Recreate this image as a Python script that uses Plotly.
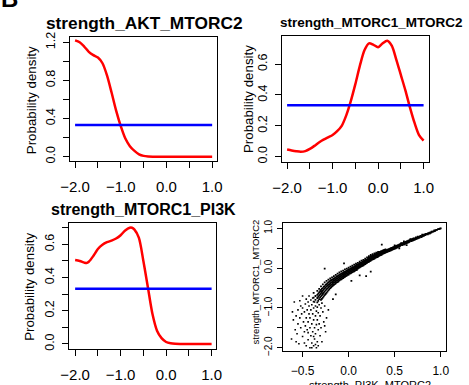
import plotly.graph_objects as go

W, H = 469, 385
FONT = "Liberation Sans, Arial, Helvetica, sans-serif"

# ---------------- density panels ----------------
akt_x = [-2.0, -1.9, -1.8, -1.7, -1.6, -1.5, -1.4, -1.3, -1.2, -1.1, -1.0, -0.9, -0.8, -0.7,
         -0.6, -0.5, -0.4, -0.3, -0.2, 0.0, 0.5, 1.0]
akt_y = [1.22, 1.20, 1.155, 1.10, 1.065, 1.04, 0.98, 0.85, 0.67, 0.48, 0.32, 0.19, 0.11, 0.06,
         0.025, 0.008, 0.002, 0.0, 0.0, 0.0, 0.0, 0.0]

m1m2_x = [-2.0, -1.9, -1.8, -1.7, -1.6, -1.5, -1.4, -1.3, -1.2, -1.1, -1.0, -0.9, -0.8, -0.7,
          -0.6, -0.5, -0.4, -0.3, -0.2, -0.1, 0.0, 0.1, 0.2, 0.3, 0.4, 0.5, 0.6, 0.7, 0.8, 0.9, 1.0]
m1m2_y = [0.046, 0.040, 0.035, 0.032, 0.036, 0.050, 0.070, 0.092, 0.110, 0.125, 0.140, 0.165,
          0.200, 0.268, 0.360, 0.470, 0.590, 0.690, 0.735, 0.725, 0.710, 0.735, 0.752, 0.720,
          0.630, 0.530, 0.430, 0.320, 0.220, 0.140, 0.104]

m1pi_x = [-2.0, -1.9, -1.8, -1.75, -1.7, -1.6, -1.5, -1.4, -1.3, -1.2, -1.1, -1.0, -0.9, -0.8,
          -0.75, -0.7, -0.6, -0.5, -0.4, -0.3, -0.2, -0.1, 0.0, 0.1, 0.2, 0.4, 1.0]
m1pi_y = [0.505, 0.500, 0.490, 0.487, 0.495, 0.530, 0.572, 0.598, 0.613, 0.622, 0.635, 0.655,
          0.683, 0.700, 0.700, 0.690, 0.640, 0.500, 0.340, 0.180, 0.080, 0.035, 0.012, 0.004,
          0.001, 0.0, 0.0]

prior_x = [-2.0, 1.0]
prior_y = [0.333, 0.333]

titles = ["strength_AKT_MTORC2", "strength_MTORC1_MTORC2", "strength_MTORC1_PI3K"]

# ---------------- scatter panel ----------------
band_tip = [(1.00, 1.00), (0.99, 0.99), (0.98, 0.98), (0.97, 0.98), (0.96, 0.96), (0.95, 0.96),
            (0.94, 0.94), (0.93, 0.93), (0.93, 0.95), (0.92, 0.92), (0.91, 0.92), (0.90, 0.90),
            (0.90, 0.92), (0.89, 0.89), (0.88, 0.89), (0.88, 0.87), (0.87, 0.88), (0.86, 0.87),
            (0.86, 0.85), (0.85, 0.86), (0.84, 0.84), (0.84, 0.86), (0.83, 0.83), (0.83, 0.85),
            (0.82, 0.82), (0.82, 0.84), (0.81, 0.81), (0.81, 0.83), (0.80, 0.80), (0.80, 0.82),
            (0.80, 0.84), (0.79, 0.80), (0.79, 0.78), (0.78, 0.79), (0.78, 0.81), (0.77, 0.77),
            (0.77, 0.79), (0.76, 0.78), (0.76, 0.76), (0.75, 0.77), (0.75, 0.75), (0.75, 0.79),
            (0.74, 0.74), (0.74, 0.76), (0.73, 0.73), (0.73, 0.75), (0.73, 0.77), (0.72, 0.72),
            (0.72, 0.74), (0.71, 0.73), (0.71, 0.71), (0.71, 0.75), (0.70, 0.72), (0.70, 0.70),
            (0.70, 0.74)]

band_upper = [(0.69, 0.71), (0.69, 0.73), (0.69, 0.69), (0.68, 0.70), (0.68, 0.72), (0.68, 0.68),
              (0.67, 0.69), (0.67, 0.71), (0.67, 0.73), (0.66, 0.68), (0.66, 0.70), (0.66, 0.66),
              (0.65, 0.67), (0.65, 0.69), (0.65, 0.65), (0.64, 0.66), (0.64, 0.68), (0.64, 0.64),
              (0.63, 0.65), (0.63, 0.67), (0.63, 0.63), (0.62, 0.64), (0.62, 0.66), (0.62, 0.62),
              (0.61, 0.63), (0.61, 0.65), (0.61, 0.60), (0.60, 0.62), (0.60, 0.64), (0.60, 0.60),
              (0.60, 0.67), (0.59, 0.61), (0.59, 0.63), (0.59, 0.59), (0.58, 0.60), (0.58, 0.62),
              (0.58, 0.58), (0.57, 0.59), (0.57, 0.61), (0.57, 0.63), (0.56, 0.58), (0.56, 0.60),
              (0.56, 0.56), (0.55, 0.57), (0.55, 0.59), (0.55, 0.55), (0.54, 0.56), (0.54, 0.58),
              (0.54, 0.54), (0.53, 0.55), (0.53, 0.57), (0.53, 0.52), (0.52, 0.54), (0.52, 0.56),
              (0.52, 0.51), (0.51, 0.53), (0.51, 0.55), (0.51, 0.50), (0.50, 0.52), (0.50, 0.54),
              (0.50, 0.49), (0.50, 0.57), (0.49, 0.51), (0.49, 0.53), (0.49, 0.48), (0.48, 0.50),
              (0.48, 0.52), (0.48, 0.47), (0.47, 0.49), (0.47, 0.51), (0.47, 0.46), (0.46, 0.48),
              (0.46, 0.50), (0.46, 0.45), (0.45, 0.47), (0.45, 0.49), (0.45, 0.44), (0.44, 0.46),
              (0.44, 0.48), (0.44, 0.43), (0.43, 0.45), (0.43, 0.47), (0.43, 0.42), (0.42, 0.44),
              (0.42, 0.46), (0.42, 0.41), (0.41, 0.43), (0.41, 0.45), (0.41, 0.40), (0.40, 0.42),
              (0.40, 0.44), (0.40, 0.39), (0.40, 0.47), (0.63, 0.58), (0.55, 0.50)]

band_mid = {
    0.39: [0.38, 0.41, 0.44, 0.46], 0.38: [0.37, 0.40, 0.42, 0.45], 0.37: [0.36, 0.39, 0.41, 0.44],
    0.36: [0.34, 0.37, 0.40, 0.43, 0.59], 0.35: [0.33, 0.36, 0.39, 0.42], 0.34: [0.32, 0.35, 0.38, 0.41],
    0.33: [0.31, 0.34, 0.36, 0.40], 0.32: [0.29, 0.32, 0.35, 0.38, 0.41], 0.31: [0.28, 0.31, 0.34, 0.37],
    0.30: [0.27, 0.30, 0.33, 0.36, 0.39], 0.29: [0.26, 0.29, 0.31, 0.35], 0.28: [0.24, 0.27, 0.30, 0.33, 0.37],
    0.27: [0.23, 0.26, 0.29, 0.32], 0.26: [0.22, 0.25, 0.28, 0.31, 0.35], 0.25: [0.21, 0.24, 0.27, 0.30],
    0.24: [0.19, 0.22, 0.25, 0.29, 0.33, -0.09], 0.23: [0.18, 0.21, 0.24, 0.27],
    0.22: [0.16, 0.19, 0.22, 0.26, 0.30], 0.21: [0.15, 0.18, 0.21, 0.24],
    0.20: [0.13, 0.16, 0.19, 0.22, 0.27], 0.19: [0.12, 0.15, 0.18, 0.21, -0.20],
    0.18: [0.10, 0.13, 0.16, 0.20, 0.24], 0.17: [0.09, 0.12, 0.15, 0.18],
    0.16: [0.07, 0.10, 0.14, 0.17, 0.21], 0.15: [0.06, 0.09, 0.12, 0.16],
    0.14: [0.05, 0.08, 0.11, 0.14, 0.19], 0.13: [0.03, 0.06, 0.10, 0.13],
    0.12: [0.02, 0.05, 0.08, 0.12, 0.16, -0.18], 0.11: [0.01, 0.04, 0.07, 0.10],
    0.10: [-0.01, 0.02, 0.05, 0.09, 0.13],
}

band_low = {
    0.09: [-0.04, 0.00, 0.04, 0.08], 0.08: [-0.05, -0.01, 0.02, 0.06, 0.11],
    0.07: [-0.06, -0.02, 0.01, 0.05], 0.06: [-0.08, -0.04, 0.00, 0.04, 0.09],
    0.05: [-0.09, -0.05, -0.02, 0.02], 0.04: [-0.10, -0.06, -0.03, 0.01, 0.06],
    0.03: [-0.12, -0.08, -0.04, 0.00, -0.32], 0.02: [-0.13, -0.09, -0.05, -0.01, 0.04],
    0.01: [-0.14, -0.10, -0.07, -0.03], 0.00: [-0.16, -0.12, -0.08, -0.04, 0.01],
    -0.01: [-0.17, -0.13, -0.09, -0.05], -0.02: [-0.19, -0.14, -0.10, -0.06, -0.01],
    -0.03: [-0.20, -0.16, -0.12, -0.08], -0.04: [-0.22, -0.17, -0.13, -0.09, -0.03],
    -0.05: [-0.23, -0.19, -0.14, -0.10, 0.12], -0.06: [-0.25, -0.20, -0.16, -0.12, -0.06],
    -0.07: [-0.26, -0.22, -0.17, -0.13], -0.08: [-0.28, -0.23, -0.19, -0.14, -0.08],
    -0.09: [-0.29, -0.25, -0.20, -0.16], -0.10: [-0.31, -0.26, -0.22, -0.17, -0.11],
    -0.11: [-0.33, -0.28, -0.23, -0.19], -0.12: [-0.35, -0.30, -0.25, -0.20, -0.14],
    -0.13: [-0.36, -0.31, -0.26, -0.21], -0.14: [-0.38, -0.33, -0.28, -0.23, -0.17, -0.66],
    -0.15: [-0.40, -0.35, -0.30, -0.25], -0.16: [-0.42, -0.36, -0.31, -0.26, -0.20],
    -0.17: [-0.44, -0.38, -0.33, -0.28, -0.78], -0.18: [-0.46, -0.40, -0.35, -0.29, -0.23],
    -0.19: [-0.48, -0.42, -0.36, -0.30], -0.20: [-0.50, -0.44, -0.38, -0.32, -0.26],
    -0.21: [-0.53, -0.46, -0.40, -0.34], -0.22: [-0.56, -0.48, -0.42, -0.36, -0.29],
    -0.23: [-0.59, -0.51, -0.44, -0.38], -0.24: [-0.62, -0.53, -0.46, -0.40, -0.32],
    -0.25: [-0.65, -0.56, -0.49, -0.42], -0.26: [-0.68, -0.59, -0.51, -0.45, -0.36, -0.01],
    -0.27: [-0.71, -0.62, -0.54, -0.47], -0.28: [-0.74, -0.65, -0.57, -0.50, -0.41],
    -0.29: [-0.77, -0.68, -0.60, -0.52], -0.30: [-0.80, -0.71, -0.63, -0.55, -0.46],
    -0.31: [-0.74, -0.66, -0.58], -0.32: [-0.78, -0.69, -0.61, -0.52],
    -0.33: [-0.82, -0.72, -0.64], -0.34: [-0.86, -0.75, -0.67, -0.57],
    -0.36: [-0.80, -0.70], -0.38: [-0.84, -0.74, -0.62],
}

fan = [(-0.62, -1.78), (-0.60, -1.30), (-0.59, -0.85), (-0.58, -1.55), (-0.57, -1.20), (-0.56, -1.65),
       (-0.55, -1.05), (-0.55, -1.40), (-0.54, -1.90), (-0.53, -1.25), (-0.52, -0.95), (-0.52, -1.50),
       (-0.51, -1.15), (-0.50, -1.72), (-0.50, -1.00), (-0.49, -1.35), (-0.48, -1.60), (-0.48, -1.10),
       (-0.47, -0.90), (-0.47, -1.45), (-0.46, -1.95), (-0.46, -1.25), (-0.45, -1.05), (-0.45, -1.55),
       (-0.44, -0.85), (-0.44, -1.35), (-0.44, -1.80), (-0.43, -1.15), (-0.43, -0.95), (-0.42, -1.50),
       (-0.42, -2.00), (-0.42, -1.25), (-0.41, -0.80), (-0.41, -1.05), (-0.41, -1.70), (-0.40, -1.40),
       (-0.40, -0.92), (-0.40, -1.88), (-0.39, -1.15), (-0.39, -1.60), (-0.39, -0.75), (-0.38, -1.30),
       (-0.38, -1.95), (-0.38, -1.00), (-0.37, -1.50), (-0.37, -0.85), (-0.37, -1.78), (-0.36, -1.20),
       (-0.36, -1.65), (-0.36, -0.95), (-0.35, -1.42), (-0.35, -2.00), (-0.35, -1.08), (-0.34, -1.85),
       (-0.34, -1.30), (-0.34, -0.98), (-0.33, -1.55), (-0.33, -1.12), (-0.33, -1.95), (-0.32, -1.40),
       (-0.32, -0.92), (-0.31, -1.70), (-0.31, -1.20), (-0.30, -1.00), (-0.30, -1.50), (-0.29, -1.85),
       (-0.29, -0.88), (-0.28, -1.10), (-0.27, -1.35), (-0.26, -0.95), (-0.25, -1.60), (-0.24, -1.25),
       (-0.22, -1.05), (-0.26, -1.45), (-0.46, -0.78), (-0.50, -0.70), (-0.53, -0.82), (-0.43, -0.70),
       (-0.61, -1.10), (-0.57, -1.85), (-0.40, -2.00), (-0.36, -1.92), (-0.38, -1.72), (-0.44, -1.62),
       (-0.48, -1.88)]

band_x, band_y = [], []
for a, b in band_tip + band_upper:
    band_x.append(a)
    band_y.append(b)
for grp in (band_mid, band_low):
    for a, ys in grp.items():
        for b in ys:
            band_x.append(a)
            band_y.append(b)
fan_x = [p[0] for p in fan]
fan_y = [p[1] for p in fan]


# ---------------- layout helpers ----------------
def xdom(left, right):
    return [left / W, right / W]


def ydom(top, bottom):
    return [1 - bottom / H, 1 - top / H]


M = "\u2212"
dens_xticks = [-2.0, -1.5, -1.0, -0.5, 0.0, 0.5, 1.0]
dens_xtext = [M + "2.0", "", M + "1.0", "", "0.0", "", "1.0"]

axis_common = dict(showline=True, mirror=True, linecolor="black", linewidth=1,
                   ticks="outside", tickcolor="black", tickwidth=1, showgrid=False,
                   zeroline=False, fixedrange=True)

fig = go.Figure()

panels = [
    (akt_x, akt_y, "x", "y"),
    (m1m2_x, m1m2_y, "x2", "y2"),
    (m1pi_x, m1pi_y, "x3", "y3"),
]
for xs, ys, xa, ya in panels:
    fig.add_trace(go.Scatter(x=xs, y=ys, mode="lines", xaxis=xa, yaxis=ya,
                             line=dict(color="#ff0000", width=2.5, shape="spline", smoothing=0.8),
                             showlegend=False, hoverinfo="skip"))
    fig.add_trace(go.Scatter(x=prior_x, y=prior_y, mode="lines", xaxis=xa, yaxis=ya,
                             line=dict(color="#0000ff", width=2.5),
                             showlegend=False, hoverinfo="skip"))

fig.add_trace(go.Scatter(x=band_x, y=band_y, mode="markers", xaxis="x4", yaxis="y4",
                         marker=dict(color="black", size=1.8, symbol="square", line=dict(width=0)),
                         showlegend=False, hoverinfo="skip"))
fig.add_trace(go.Scatter(x=fan_x, y=fan_y, mode="markers", xaxis="x4", yaxis="y4",
                         marker=dict(color="black", size=1.6, symbol="square", line=dict(width=0)),
                         showlegend=False, hoverinfo="skip"))

xt_font = dict(family=FONT, size=15, color="black")
yt_font = dict(family=FONT, size=12.5, color="black")

layout = dict(
    width=W, height=H, margin=dict(l=0, r=0, t=0, b=0),
    paper_bgcolor="white", plot_bgcolor="white", showlegend=False,
    xaxis=dict(domain=xdom(62.6, 215.3), range=[-2.12, 1.115], anchor="y",
               tickvals=dens_xticks, ticktext=dens_xtext, ticklen=6, tickfont=xt_font,
               ticklabelstandoff=6, **axis_common),
    yaxis=dict(domain=ydom(33, 160), range=[-0.044, 1.254], anchor="x",
               tickvals=[0, 0.2, 0.4, 0.6, 0.8, 1.0, 1.2],
               ticktext=["0.0", "", "0.4", "", "0.8", "", "1.2"], ticklen=6, tickangle=-90,
               tickfont=yt_font, ticklabelstandoff=3, **axis_common),
    xaxis2=dict(domain=xdom(281.7, 434.3), range=[-2.119, 1.128], anchor="y2",
                tickvals=dens_xticks, ticktext=dens_xtext, ticklen=6, tickfont=xt_font,
                ticklabelstandoff=6, **axis_common),
    yaxis2=dict(domain=ydom(32.3, 161), range=[-0.0335, 0.7795], anchor="x2",
                tickvals=[0, 0.2, 0.4, 0.6], ticktext=["0.0", "0.2", "0.4", "0.6"],
                ticklen=6, tickangle=-90, tickfont=yt_font, ticklabelstandoff=3, **axis_common),
    xaxis3=dict(domain=xdom(62.4, 214), range=[-2.126, 1.10], anchor="y3",
                tickvals=dens_xticks, ticktext=dens_xtext, ticklen=6, tickfont=xt_font,
                ticklabelstandoff=6, **axis_common),
    yaxis3=dict(domain=ydom(224.3, 353.3), range=[-0.031, 0.7255], anchor="x3",
                tickvals=[0, 0.1, 0.2, 0.3, 0.4, 0.5, 0.6, 0.7],
                ticktext=["0.0", "", "0.2", "", "0.4", "", "0.6", ""],
                ticklen=6, tickangle=-90, tickfont=yt_font, ticklabelstandoff=3, **axis_common),
    xaxis4=dict(domain=xdom(283.3, 451.7), range=[-0.71, 1.06], anchor="y4",
                tickvals=[-0.5, 0.0, 0.5, 1.0], ticktext=[M + "0.5", "0.0", "0.5", "1.0"],
                ticklen=5, tickfont=dict(family=FONT, size=12, color="black"),
                ticklabelstandoff=4, **axis_common),
    yaxis4=dict(domain=ydom(223.3, 355), range=[-2.077, 1.147], anchor="x4",
                tickvals=[-2.0, -1.5, -1.0, -0.5, 0.0, 0.5, 1.0],
                ticktext=[M + "2.0", "", M + "1.0", "", "0.0", "", "1.0"],
                ticklen=5, tickangle=-90, tickfont=dict(family=FONT, size=10, color="black"),
                ticklabelstandoff=1, **axis_common),
)
fig.update_layout(**layout)

ann = []
# panel titles
for text, cx, cy, size in [(titles[0], 139.5, 18, 17.3), (titles[1], 374, 18, 13.5),
                           (titles[2], 139, 210, 16)]:
    ann.append(dict(text="<b>" + text + "</b>", x=cx / W, y=1 - cy / H, xref="paper", yref="paper",
                    xanchor="center", yanchor="middle", showarrow=False,
                    font=dict(family=FONT, size=size, color="black")))
# y-axis titles
for cx, cy in [(24, 97.5), (248, 96.5), (21, 289)]:
    ann.append(dict(text="Probability density", x=cx / W, y=1 - cy / H, xref="paper", yref="paper",
                    xanchor="center", yanchor="middle", textangle=-90, showarrow=False,
                    font=dict(family=FONT, size=13.3, color="black")))
# scatter axis titles
ann.append(dict(text="strength_MTORC1_MTORC2", x=255 / W, y=1 - 284 / H, xref="paper", yref="paper",
                xanchor="center", yanchor="middle", textangle=-90, showarrow=False,
                font=dict(family=FONT, size=9.5, color="black")))
ann.append(dict(text="strength_PI3K_MTORC2", x=373 / W, y=1 - 382 / H, xref="paper", yref="paper",
                xanchor="center", yanchor="top", showarrow=False,
                font=dict(family=FONT, size=11, color="black")))
# panel letter
ann.append(dict(text="<b>B</b>", x=11 / W, y=1 - 9 / H, xref="paper", yref="paper",
                xanchor="right", yanchor="bottom", showarrow=False,
                font=dict(family=FONT, size=24, color="black")))
fig.update_layout(annotations=ann)

fig.write_html("out.html", config={"displayModeBar": False})
